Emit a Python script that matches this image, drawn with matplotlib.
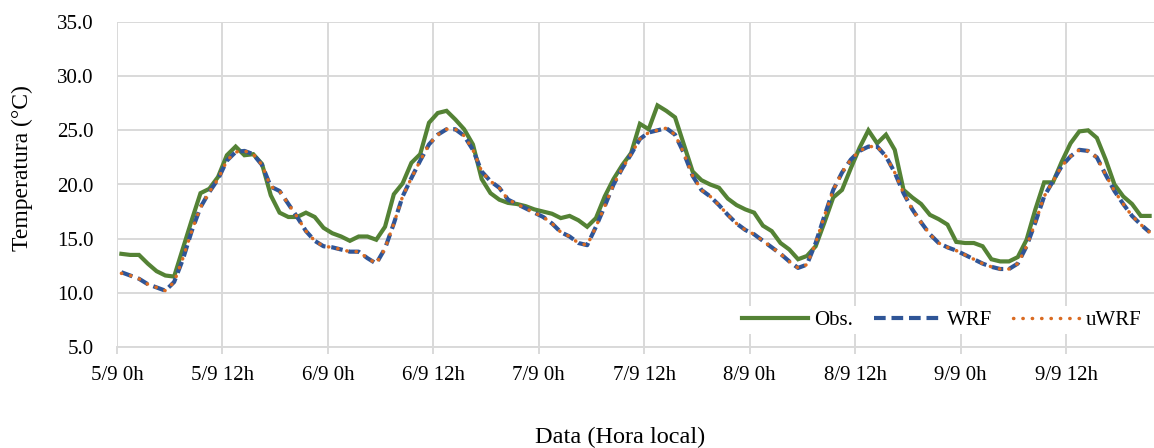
import numpy as np
import matplotlib
matplotlib.use("Agg")
import matplotlib.pyplot as plt
from matplotlib.ticker import FixedLocator, NullLocator

plt.rcParams["font.family"] = ["Liberation Serif", "DejaVu Serif"]

# Hourly air temperature, 5/9 00h to 9/9 21h (local time)
obs = [13.6, 13.5, 13.5, 12.7, 12.0, 11.6, 11.5, 14.1, 16.7, 19.2, 19.6, 20.7,
       22.7, 23.5, 22.7, 22.8, 21.9, 19.0, 17.4, 17.0, 17.0, 17.4, 17.0, 16.0,
       15.5, 15.2, 14.8, 15.2, 15.2, 14.9, 16.1, 19.1, 20.1, 22.0, 22.8, 25.7,
       26.6, 26.8, 26.0, 25.1, 23.7, 20.5, 19.2, 18.6, 18.3, 18.2, 18.0, 17.7,
       17.5, 17.3, 16.9, 17.1, 16.7, 16.1, 16.9, 18.9, 20.5, 21.8, 22.9, 25.6,
       25.1, 27.3, 26.8, 26.2, 23.7, 21.2, 20.4, 20.0, 19.7, 18.7, 18.1, 17.7,
       17.4, 16.2, 15.7, 14.6, 14.0, 13.1, 13.4, 14.3, 16.5, 18.8, 19.5, 21.5,
       23.4, 25.0, 23.8, 24.6, 23.2, 19.5, 18.8, 18.2, 17.2, 16.8, 16.3, 14.7,
       14.6, 14.6, 14.3, 13.1, 12.9, 12.9, 13.3, 14.9, 17.7, 20.2, 20.2, 22.1,
       23.8, 24.9, 25.0, 24.3, 22.3, 20.0, 18.9, 18.2, 17.1, 17.1]

wrf = [11.9, 11.6, 11.3, 10.8, 10.5, 10.2, 11.0, 13.1, 15.7, 17.9, 19.3, 20.5,
       22.2, 23.0, 23.1, 22.8, 21.8, 19.8, 19.4, 18.2, 17.0, 15.7, 14.8, 14.3,
       14.2, 14.0, 13.8, 13.8, 13.2, 12.7, 14.1, 16.4, 18.9, 20.6, 22.2, 23.7,
       24.6, 25.1, 25.1, 24.5, 23.2, 21.2, 20.3, 19.7, 18.6, 18.2, 17.8, 17.4,
       17.0, 16.4, 15.6, 15.2, 14.6, 14.4, 16.1, 18.0, 20.0, 21.5, 22.8, 24.2,
       24.8, 25.0, 25.2, 24.6, 22.9, 20.8, 19.5, 18.9, 18.1, 17.2, 16.4, 15.8,
       15.4, 14.8, 14.2, 13.6, 12.9, 12.3, 12.6, 14.6, 17.1, 19.5, 21.1, 22.3,
       23.1, 23.5, 23.5, 22.6, 21.1, 19.2, 17.7, 16.5, 15.4, 14.6, 14.2, 13.9,
       13.5, 13.1, 12.7, 12.4, 12.2, 12.2, 12.7, 14.3, 16.5, 18.9, 20.3, 21.7,
       22.6, 23.2, 23.1, 22.5, 20.9, 19.4, 18.2, 17.1, 16.3, 15.6]

uwrf = [11.8, 11.6, 11.3, 10.8, 10.5, 10.2, 11.0, 13.2, 15.7, 17.9, 19.3, 20.5,
        22.2, 23.0, 23.1, 22.8, 21.8, 19.8, 19.4, 18.2, 17.0, 15.7, 14.8, 14.3,
        14.2, 14.0, 13.8, 13.8, 13.2, 12.7, 14.1, 16.4, 18.9, 20.6, 22.2, 23.7,
        24.6, 25.1, 25.1, 24.5, 23.2, 21.2, 20.3, 19.7, 18.6, 18.2, 17.8, 17.4,
        17.0, 16.4, 15.6, 15.2, 14.6, 14.4, 16.1, 18.0, 20.0, 21.5, 22.8, 24.2,
        24.8, 25.0, 25.2, 24.6, 22.9, 20.8, 19.5, 18.9, 18.1, 17.2, 16.4, 15.8,
        15.4, 14.8, 14.2, 13.6, 12.9, 12.3, 12.6, 14.6, 17.1, 19.5, 21.1, 22.3,
        23.1, 23.5, 23.5, 22.6, 21.1, 19.2, 17.7, 16.5, 15.4, 14.6, 14.2, 13.9,
        13.5, 13.1, 12.7, 12.4, 12.2, 12.2, 12.7, 14.3, 16.5, 18.9, 20.3, 21.7,
        22.6, 23.2, 23.1, 22.5, 20.9, 19.4, 18.2, 17.1, 16.3, 15.6]

tick_labels = ["5/9 0h", "5/9 12h", "6/9 0h", "6/9 12h", "7/9 0h",
               "7/9 12h", "8/9 0h", "8/9 12h", "9/9 0h", "9/9 12h"]

c_obs = "#548235"
c_wrf = "#2F5597"
c_uwrf = "#DA6B22"
c_grid = "#D9D9D9"

W, H = 1154, 448
n = len(obs)
# each hourly value sits in the middle of its hour slot
hours = np.arange(n) + 0.5

fig = plt.figure(figsize=(W / 100, H / 100), dpi=100)
ax = fig.add_axes([117 / W, 1 - 347 / H, (W - 117) / W, (347 - 22) / H])

ax.plot(hours, obs, color=c_obs, lw=3.0, solid_joinstyle="miter", label="Obs.", zorder=3)
ax.plot(hours, wrf, color=c_wrf, lw=3.0, dashes=(2.8, 1.4), label="WRF", zorder=4)
ax.plot(hours, uwrf, color=c_uwrf, lw=2.5, dashes=(0.1, 2.6), dash_capstyle="round",
        label="uWRF", zorder=5)

ax.set_xlim(0, n)
ax.set_ylim(5, 35)
ax.xaxis.set_major_locator(FixedLocator(np.arange(0, 12 * len(tick_labels), 12)))
ax.set_xticklabels(tick_labels)
ax.set_yticks(np.arange(5, 36, 5))
ax.set_yticklabels([f"{v:.1f}" for v in np.arange(5, 36, 5)])
ax.yaxis.set_minor_locator(NullLocator())

ax.grid(True, color=c_grid, lw=1.4, zorder=0)
ax.set_axisbelow(True)
for s in ["top", "right", "left"]:
    ax.spines[s].set_visible(False)
ax.spines["bottom"].set_color(c_grid)
ax.spines["bottom"].set_linewidth(1.4)
ax.tick_params(axis="x", length=5, width=1.4, color=c_grid, pad=9, labelsize=15)
ax.tick_params(axis="y", length=0, pad=17, labelsize=15)

fig.text(22 / W, 1 - 168 / H, "Temperatura (°C)", rotation=90, fontsize=17,
         ha="center", va="center")
fig.text(620 / W, 1 - 437 / H, "Data (Hora local)", fontsize=17.5,
         ha="center", va="center")

leg = ax.legend(loc="center left", ncol=3, frameon=True, fontsize=15,
                handlelength=3.2, columnspacing=1.0, handletextpad=0.3,
                borderpad=0.2, bbox_to_anchor=(727 / W, 1 - 320 / H),
                bbox_transform=fig.transFigure)
leg.get_frame().set_facecolor("white")
leg.get_frame().set_edgecolor("none")
leg.get_frame().set_alpha(1.0)
leg.set_zorder(6)

fig.savefig("out.png", dpi=100)
